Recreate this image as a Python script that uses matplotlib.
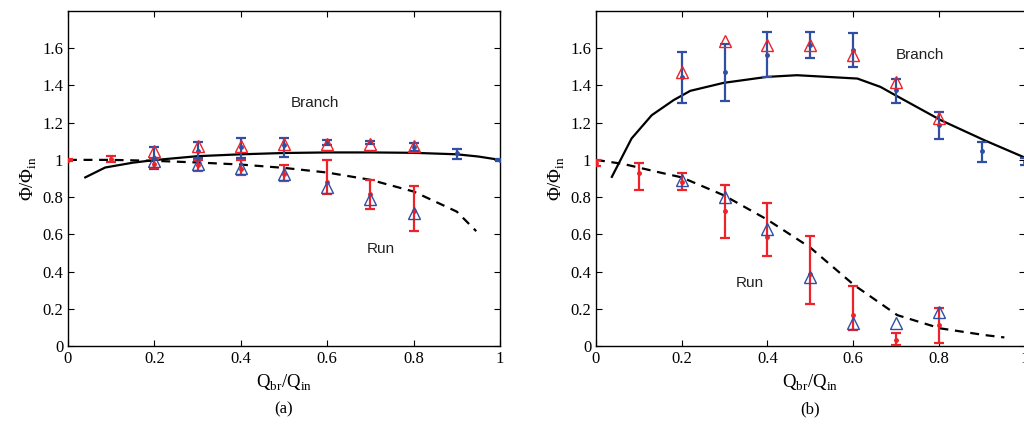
import matplotlib
matplotlib.use("Agg")
import matplotlib.pyplot as plt
from matplotlib.ticker import FormatStrFormatter

plt.rcParams['font.family'] = ['Liberation Serif', 'DejaVu Serif']
plt.rcParams['mathtext.fontset'] = 'custom'
plt.rcParams['mathtext.rm'] = 'Liberation Serif'

BLUE = '#2f4fa2'
RED = '#ee2229'

# ---- panel (a) ----
a_branch_x = [0.2, 0.3, 0.4, 0.5, 0.6, 0.7, 0.8, 0.9, 1.0]
a_branch_y = [1.01, 1.047, 1.07, 1.078, 1.094, 1.094, 1.07, 1.038, 1.0]
a_branch_lo = [0.949, 1.01, 1.011, 1.016, 1.08, 1.085, 1.05, 1.006, 0.995]
a_branch_hi = [1.068, 1.095, 1.115, 1.12, 1.105, 1.103, 1.09, 1.061, 1.005]

a_run_x = [0.0, 0.1, 0.2, 0.3, 0.4, 0.5, 0.6, 0.7, 0.8]
a_run_y = [1.0, 1.005, 0.98, 0.97, 0.952, 0.922, 0.88, 0.815, 0.725]
a_run_lo = [0.995, 0.99, 0.955, 0.94, 0.918, 0.888, 0.818, 0.736, 0.619]
a_run_hi = [1.005, 1.02, 1.005, 0.998, 0.997, 0.974, 0.997, 0.891, 0.859]

sim_x = [0.2, 0.3, 0.4, 0.5, 0.6, 0.7, 0.8]
a_branch_sim = [1.047, 1.074, 1.074, 1.085, 1.088, 1.088, 1.074]
a_run_sim = [0.993, 0.977, 0.954, 0.922, 0.855, 0.789, 0.717]

a_branch_model_x = [0.04, 0.086, 0.15, 0.2, 0.3, 0.4, 0.5, 0.6, 0.7, 0.8, 0.9, 0.95, 1.0]
a_branch_model_y = [0.906, 0.959, 0.985, 0.999, 1.02, 1.03, 1.037, 1.04, 1.04, 1.038, 1.03, 1.018, 1.0]
a_run_model_x = [0.0, 0.1, 0.2, 0.3, 0.4, 0.5, 0.6, 0.7, 0.8, 0.9, 0.945]
a_run_model_y = [1.0, 1.0, 0.995, 0.986, 0.975, 0.957, 0.932, 0.893, 0.83, 0.722, 0.617]

# ---- panel (b) ----
b_branch_x = [0.2, 0.3, 0.4, 0.5, 0.6, 0.7, 0.8, 0.9, 1.0]
b_branch_y = [1.443, 1.47, 1.564, 1.62, 1.593, 1.374, 1.19, 1.049, 0.99]
b_branch_lo = [1.308, 1.315, 1.443, 1.548, 1.5, 1.306, 1.11, 0.99, 0.97]
b_branch_hi = [1.58, 1.625, 1.688, 1.688, 1.682, 1.437, 1.256, 1.097, 1.01]

b_run_x = [0.0, 0.1, 0.2, 0.3, 0.4, 0.5, 0.6, 0.7, 0.8]
b_run_y = [0.984, 0.93, 0.881, 0.727, 0.587, 0.387, 0.168, 0.032, 0.115]
b_run_lo = [0.965, 0.837, 0.837, 0.581, 0.483, 0.226, 0.086, 0.004, 0.018]
b_run_hi = [1.0, 0.984, 0.93, 0.864, 0.766, 0.591, 0.322, 0.07, 0.202]

b_branch_sim = [1.47, 1.64, 1.62, 1.616, 1.563, 1.416, 1.224]
b_run_sim = [0.891, 0.802, 0.626, 0.372, 0.122, 0.125, 0.182]

b_branch_model_x = [0.037, 0.083, 0.13, 0.181, 0.22, 0.298, 0.399, 0.469, 0.61, 0.664, 0.703, 0.805, 0.906, 1.0]
b_branch_model_y = [0.909, 1.115, 1.24, 1.321, 1.371, 1.414, 1.446, 1.455, 1.437, 1.392, 1.342, 1.213, 1.106, 1.013]
b_run_model_x = [0.0, 0.064, 0.142, 0.2, 0.298, 0.399, 0.5, 0.602, 0.703, 0.803, 0.906, 0.953]
b_run_model_y = [1.0, 0.978, 0.936, 0.906, 0.81, 0.68, 0.529, 0.328, 0.166, 0.095, 0.059, 0.046]

x_ticks = [0, 0.2, 0.4, 0.6, 0.8, 1]
y_ticks = [0, 0.2, 0.4, 0.6, 0.8, 1, 1.2, 1.4, 1.6]


def errbar(ax, x, y, lo, hi, color):
    yerr = [[v - l for v, l in zip(y, lo)], [h - v for v, h in zip(y, hi)]]
    ax.errorbar(x, y, yerr=yerr, fmt='.', color=color, markersize=5,
                elinewidth=1.6, capsize=3.5, capthick=1.6, zorder=3)


def draw_panel(ax, d, tag):
    ax.plot(d['bmx'], d['bmy'], '-', color='black', lw=1.6, zorder=2)
    ax.plot(d['rmx'], d['rmy'], '--', color='black', lw=1.6, dashes=(4, 3), zorder=2)
    errbar(ax, d['bx'], d['by'], d['blo'], d['bhi'], BLUE)
    errbar(ax, d['rx'], d['ry'], d['rlo'], d['rhi'], RED)
    ax.plot(sim_x, d['bsim'], '^', mfc='none', mec=RED, ms=9, mew=1.0, zorder=4)
    ax.plot(sim_x, d['rsim'], '^', mfc='none', mec=BLUE, ms=9, mew=1.0, zorder=4)

    ax.set_xlim(0, 1)
    ax.set_ylim(0, 1.8)
    ax.set_xticks(x_ticks)
    ax.set_yticks(y_ticks)
    ax.xaxis.set_major_formatter(FormatStrFormatter('%g'))
    ax.yaxis.set_major_formatter(FormatStrFormatter('%g'))
    ax.tick_params(direction='in', top=True, right=True, length=4,
                   labelsize=12, width=0.8)
    for s in ax.spines.values():
        s.set_linewidth(1.0)
    ax.set_xlabel('Q$_{\\rm br}$/Q$_{\\rm in}$', fontsize=13.5, labelpad=4)
    ax.set_ylabel('Φ/Φ$_{\\rm in}$', fontsize=13.5, labelpad=2)
    ax.text(d['btxt'][0], d['btxt'][1], 'Branch', family='Liberation Sans',
            fontsize=11, ha='center', va='center', color='#222222')
    ax.text(d['rtxt'][0], d['rtxt'][1], 'Run', family='Liberation Sans',
            fontsize=11, ha='center', va='center', color='#222222')
    ax.text(0.5, -0.188, tag, transform=ax.transAxes, ha='center', va='center', fontsize=12)


def main():
    fig = plt.figure(figsize=(10.24, 4.29), dpi=100)
    ax_a = fig.add_axes([68 / 1024, 83 / 429, 432 / 1024, 335 / 429])
    ax_b = fig.add_axes([596 / 1024, 83 / 429, 428.5 / 1024, 335 / 429])

    panel_a = dict(bx=a_branch_x, by=a_branch_y, blo=a_branch_lo, bhi=a_branch_hi,
                   rx=a_run_x, ry=a_run_y, rlo=a_run_lo, rhi=a_run_hi,
                   bsim=a_branch_sim, rsim=a_run_sim,
                   bmx=a_branch_model_x, bmy=a_branch_model_y,
                   rmx=a_run_model_x, rmy=a_run_model_y,
                   btxt=(0.572, 1.305), rtxt=(0.725, 0.52))
    panel_b = dict(bx=b_branch_x, by=b_branch_y, blo=b_branch_lo, bhi=b_branch_hi,
                   rx=b_run_x, ry=b_run_y, rlo=b_run_lo, rhi=b_run_hi,
                   bsim=b_branch_sim, rsim=b_run_sim,
                   bmx=b_branch_model_x, bmy=b_branch_model_y,
                   rmx=b_run_model_x, rmy=b_run_model_y,
                   btxt=(0.756, 1.562), rtxt=(0.358, 0.338))

    draw_panel(ax_a, panel_a, '(a)')
    draw_panel(ax_b, panel_b, '(b)')

    fig.savefig("out.png", dpi=100)


if __name__ == "__main__":
    main()
